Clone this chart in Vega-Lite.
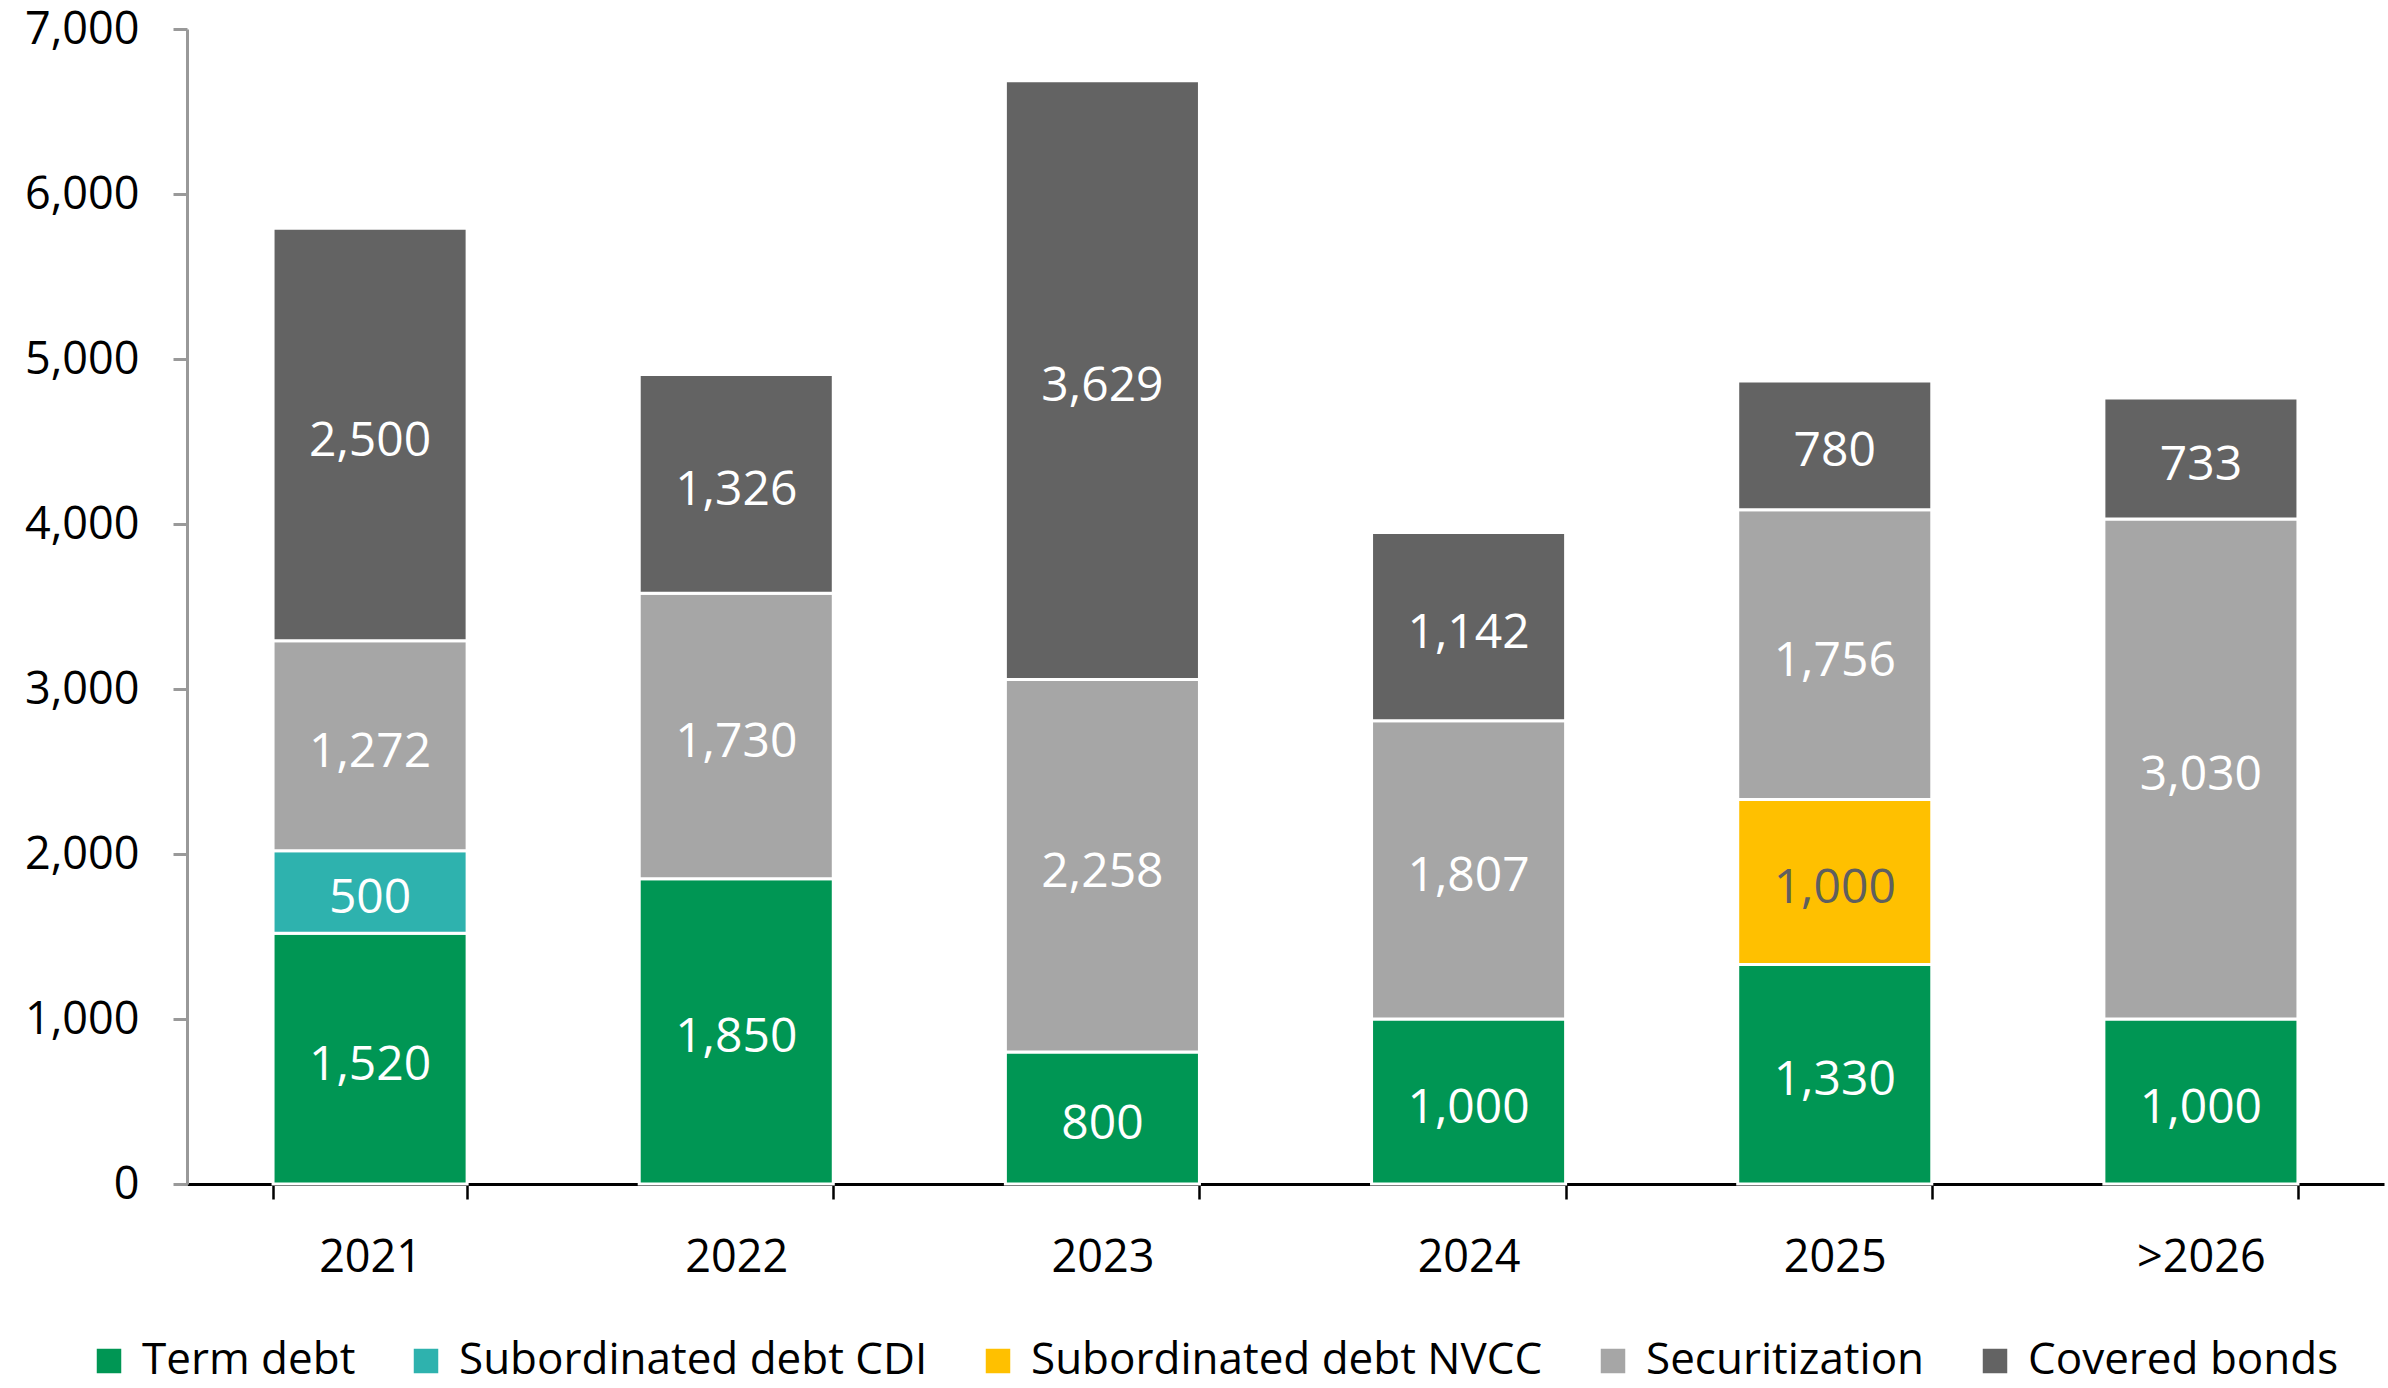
{
  "$schema": "https://vega.github.io/schema/vega-lite/v6.json",
  "width": 2197,
  "height": 1155,
  "autosize": {"type": "none"},
  "padding": {"left": 187, "top": 29, "right": 4, "bottom": 204},
  "background": "white",
  "config": {
    "view": {"stroke": null},
    "font": "Open Sans",
    "axis": {"labelFont": "Open Sans", "labelFontSize": 45, "labelColor": "#000000", "grid": false, "title": null},
    "legend": {"labelFont": "Open Sans"}
  },
  "data": {
    "values": [
      {"year": "2021", "series": "Term debt", "value": 1520},
      {"year": "2021", "series": "Subordinated debt CDI", "value": 500},
      {"year": "2021", "series": "Securitization", "value": 1272},
      {"year": "2021", "series": "Covered bonds", "value": 2500},
      {"year": "2022", "series": "Term debt", "value": 1850},
      {"year": "2022", "series": "Securitization", "value": 1730},
      {"year": "2022", "series": "Covered bonds", "value": 1326},
      {"year": "2023", "series": "Term debt", "value": 800},
      {"year": "2023", "series": "Securitization", "value": 2258},
      {"year": "2023", "series": "Covered bonds", "value": 3629},
      {"year": "2024", "series": "Term debt", "value": 1000},
      {"year": "2024", "series": "Securitization", "value": 1807},
      {"year": "2024", "series": "Covered bonds", "value": 1142},
      {"year": "2025", "series": "Term debt", "value": 1330},
      {"year": "2025", "series": "Subordinated debt NVCC", "value": 1000},
      {"year": "2025", "series": "Securitization", "value": 1756},
      {"year": "2025", "series": "Covered bonds", "value": 780},
      {"year": ">2026", "series": "Term debt", "value": 1000},
      {"year": ">2026", "series": "Securitization", "value": 3030},
      {"year": ">2026", "series": "Covered bonds", "value": 733}
    ]
  },
  "encoding": {
    "x": {
      "field": "year", "type": "nominal",
      "sort": ["2021", "2022", "2023", "2024", "2025", ">2026"],
      "scale": {"paddingInner": 0.47, "paddingOuter": 0.235},
      "axis": {
        "labelAngle": 0, "domainColor": "#000000", "domainWidth": 3,
        "tickColor": "#000000", "tickWidth": 2.5, "tickSize": 15, "tickBand": "extent",
        "labelPadding": 36
      }
    },
    "y": {
      "field": "value", "type": "quantitative", "stack": "zero",
      "scale": {"domain": [0, 7000], "nice": false},
      "axis": {
        "values": [0, 1000, 2000, 3000, 4000, 5000, 6000, 7000],
        "format": ",d", "domainColor": "#999999", "domainWidth": 3,
        "tickColor": "#999999", "tickWidth": 3, "tickSize": 14, "labelPadding": 34
      }
    }
  },
  "layer": [
    {
      "mark": {"type": "bar", "stroke": "white", "strokeWidth": 3},
      "encoding": {
        "color": {
          "field": "series", "type": "nominal",
          "sort": ["Term debt", "Subordinated debt CDI", "Subordinated debt NVCC", "Securitization", "Covered bonds"],
          "scale": {
            "domain": ["Term debt", "Subordinated debt CDI", "Subordinated debt NVCC", "Securitization", "Covered bonds"],
            "range": ["#009654", "#2EB2AE", "#FFC000", "#A6A6A6", "#636363"]
          },
          "legend": {
            "title": null, "orient": "none", "direction": "horizontal",
            "legendX": -100, "legendY": 1310,
            "labelFontSize": 44, "labelColor": "#000000", "labelLimit": 1000,
            "symbolType": "square", "symbolSize": 600, "symbolStrokeWidth": 0,
            "labelOffset": 11, "columnPadding": 48
          }
        }
      }
    },
    {
      "mark": {"type": "text", "fontSize": 48, "font": "Open Sans", "baseline": "middle", "align": "center", "dy": 7},
      "encoding": {
        "y": {"field": "value", "type": "quantitative", "stack": "zero", "bandPosition": 0.5},
        "text": {"field": "value", "type": "quantitative", "format": ","},
        "color": {
          "field": "series", "type": "nominal",
          "sort": ["Term debt", "Subordinated debt CDI", "Subordinated debt NVCC", "Securitization", "Covered bonds"],
          "scale": {
            "domain": ["Term debt", "Subordinated debt CDI", "Subordinated debt NVCC", "Securitization", "Covered bonds"],
            "range": ["#FFFFFF", "#FFFFFF", "#5F5F5F", "#FFFFFF", "#FFFFFF"]
          },
          "legend": null
        }
      }
    }
  ],
  "resolve": {"scale": {"color": "independent"}}
}
